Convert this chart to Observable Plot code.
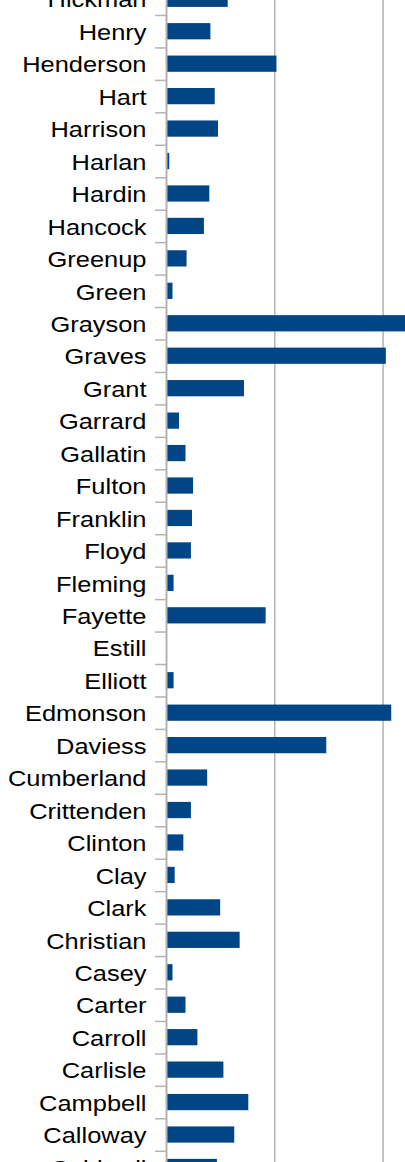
<!DOCTYPE html>
<html>
<head>
<meta charset="utf-8">
<script src="https://cdn.jsdelivr.net/npm/d3@7"></script>
<script src="https://cdn.jsdelivr.net/npm/@observablehq/plot@0.6"></script>
<style>
  html, body { margin: 0; padding: 0; background: #fff; overflow: hidden; }
</style>
</head>
<body>
<div id="chart"></div>
<script>
const counties = ["Hickman","Henry","Henderson","Hart","Harrison","Harlan","Hardin","Hancock","Greenup","Green","Grayson","Graves","Grant","Garrard","Gallatin","Fulton","Franklin","Floyd","Fleming","Fayette","Estill","Elliott","Edmonson","Daviess","Cumberland","Crittenden","Clinton","Clay","Clark","Christian","Casey","Carter","Carroll","Carlisle","Campbell","Calloway","Caldwell"];
const values = [57,41,102,45,48,3,40,35,19,6,232,203,72,12,18,25,24,23,7,92,0,7,208,148,38,23,16,8,50,68,6,18,29,53,76,63,47];
const gridValues = [100, 200];

const data = counties.map((c, i) => ({county: c, value: values[i]}));

const chart = Plot.plot({
  width: 405,
  height: 1162,
  marginLeft: 166,
  marginRight: 0,
  marginTop: 0,
  marginBottom: 0,
  style: "font-family: 'Liberation Sans', Arial, sans-serif; font-size: 22.5px; background: white; overflow: hidden;",
  x: {domain: [0, 220.7], axis: null},
  y: {domain: counties, range: [-17.45, 1183.2], paddingInner: 0.5, paddingOuter: 0.25, round: false, axis: null},
  marks: [
    Plot.ruleX(gridValues, {stroke: "#b3b3b3", strokeWidth: 1.5}),
    Plot.barX(data, {x: "value", y: "county", fill: "#004586", clip: true}),
    Plot.ruleX([0], {stroke: "#b3b3b3", strokeWidth: 2}),
    Plot.ruleY(data, {y: "county", x1: -10.15, x2: 0, dy: -16.22, stroke: "#b3b3b3", strokeWidth: 1.5}),
    Plot.text(data, {y: "county", x: 0, text: "county", textAnchor: "end", dx: -20, dy: 1, fontSize: 22.5, fill: "#000"})
  ]
});
document.getElementById("chart").appendChild(chart);
// widen labels horizontally to match the reference's stretched type
chart.querySelectorAll("text").forEach(t => {
  const len = t.getComputedTextLength();
  t.setAttribute("textLength", (len * 1.13).toFixed(2));
  t.setAttribute("lengthAdjust", "spacingAndGlyphs");
});
</script>
</body>
</html>
